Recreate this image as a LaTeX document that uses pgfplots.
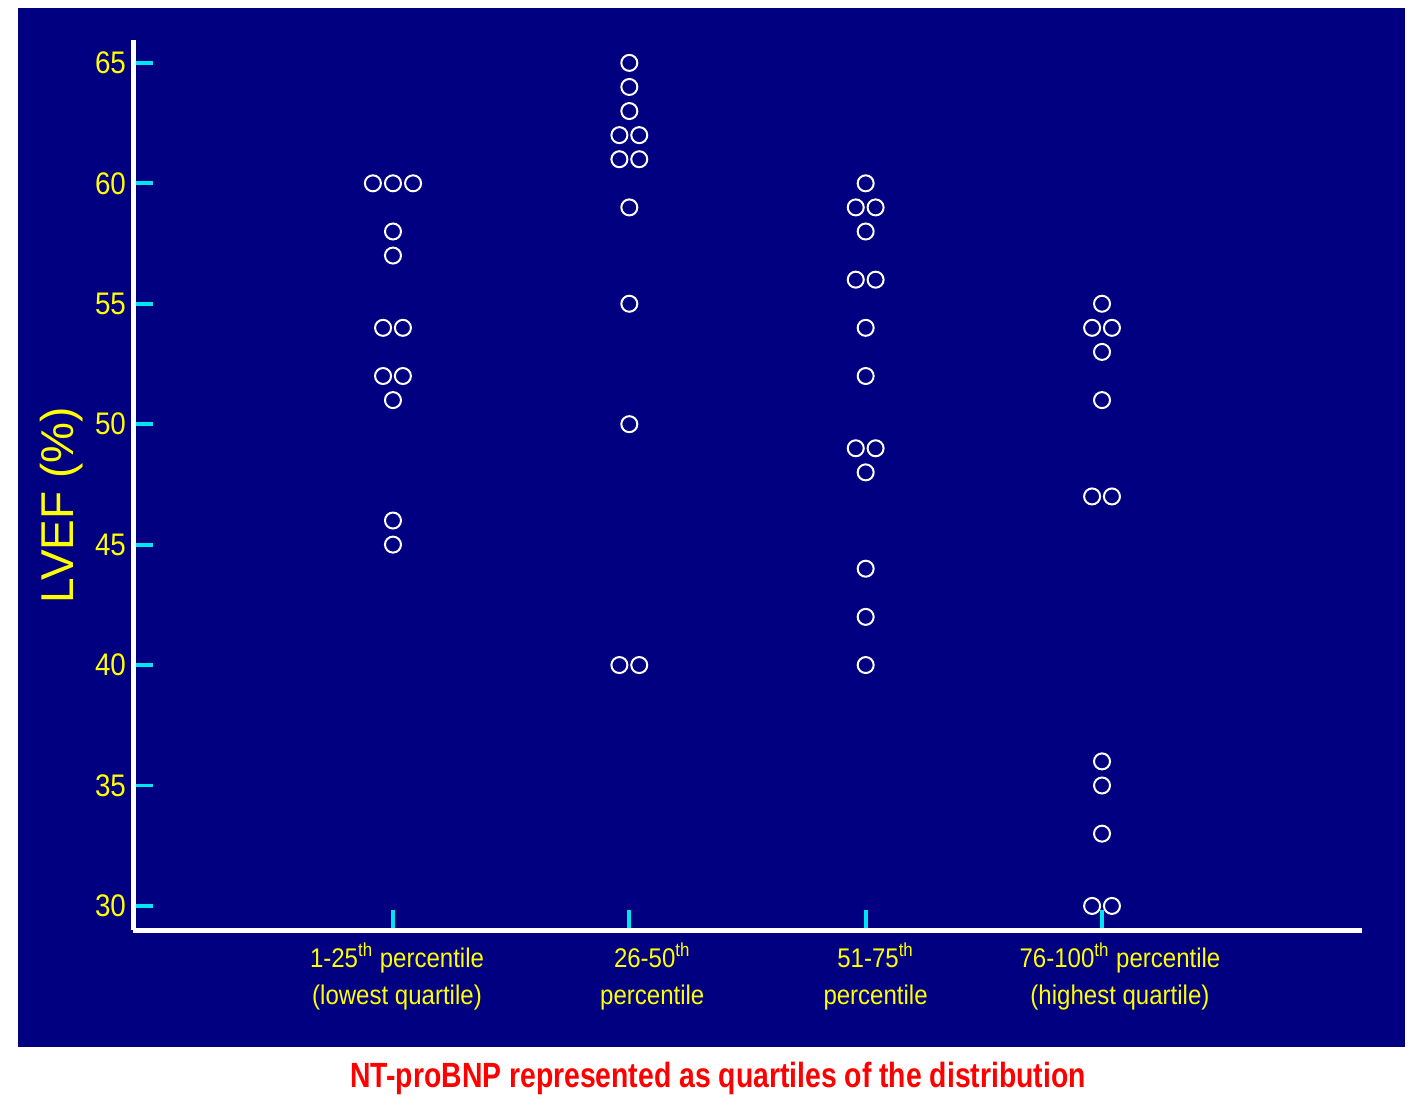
\documentclass[border=0pt]{standalone}
\usepackage{fontspec}
\setmainfont{Liberation Sans}[FakeStretch=0.89]
\newfontfamily\ylfont{Liberation Sans}
\newfontfamily\ttlfont{Liberation Sans}[FakeStretch=0.81]
\usepackage{pgfplots}
\pgfplotsset{compat=1.18}
\definecolor{bgnavy}{RGB}{0,0,128}
\definecolor{tickcyan}{RGB}{0,230,240}
\definecolor{lblyellow}{RGB}{255,255,0}
\definecolor{ttlred}{RGB}{255,0,0}
\begin{document}
\begin{tikzpicture}
% page is 1417x1105 px at 0.5pt per px
\fill[white] (0,0) rectangle (708.5pt,552.5pt);
\fill[bgnavy] (9pt,29pt) rectangle (702.5pt,548.5pt);
\begin{axis}[
    at={(66.5pt,87.5pt)}, anchor=south west,
    scale only axis,
    width=614.5pt, height=445pt,
    xmin=-0.1, xmax=5.1,
    ymin=29, ymax=65.95,
    axis lines=left,
    axis line style={white, line width=2.5pt, -},
    tick align=inside,
    major tick length=10pt,
    tick style={tickcyan, line width=1.9pt},
    xtick={1,2,3,4}, xticklabels={},
    ytick={30,35,...,65},
    extra x ticks={1.017,2.097,3.042,4.076},
    extra x tick labels={
        {1-25\textsuperscript{th} percentile\\(lowest quartile)},
        {26-50\textsuperscript{th}\\percentile},
        {51-75\textsuperscript{th}\\percentile},
        {76-100\textsuperscript{th} percentile\\(highest quartile)}},
    extra x tick style={major tick length=0pt, tick style={draw=none}},
    xticklabel style={text=lblyellow, align=center,
        font=\fontsize{13.5}{18.5}\selectfont, yshift=-3pt},
    yticklabel style={text=lblyellow, font=\fontsize{15.6}{18}\selectfont},
    /pgf/number format/assume math mode=true,
    ylabel={\ylfont LVEF (\%)},
    ylabel style={at={(axis description cs:-0.0578,0.4775)}, anchor=center,
        text=lblyellow, font=\fontsize{23}{27}\selectfont},
    clip=false,
    pt/.style={only marks, mark=o, mark size=4pt, line width=1pt, white},
]
\addplot[pt] coordinates {
(0.915,60) (1,60) (1.085,60) (1,58) (1,57) (0.958,54) (1.042,54)
(0.958,52) (1.042,52) (1,51) (1,46) (1,45)};
\addplot[pt] coordinates {
(2,65) (2,64) (2,63) (1.958,62) (2.042,62) (1.958,61) (2.042,61)
(2,59) (2,55) (2,50) (1.958,40) (2.042,40)};
\addplot[pt] coordinates {
(3,60) (2.958,59) (3.042,59) (3,58) (2.958,56) (3.042,56) (3,54)
(3,52) (2.958,49) (3.042,49) (3,48) (3,44) (3,42) (3,40)};
\addplot[pt] coordinates {
(4,55) (3.958,54) (4.042,54) (4,53) (4,51) (3.958,47) (4.042,47)
(4,36) (4,35) (4,33) (3.958,30) (4.042,30)};
\end{axis}
\node[text=ttlred, font=\ttlfont\bfseries\fontsize{17.5}{20}\selectfont] at (359pt,13.5pt)
    {NT-proBNP represented as quartiles of the distribution};
\end{tikzpicture}
\end{document}
